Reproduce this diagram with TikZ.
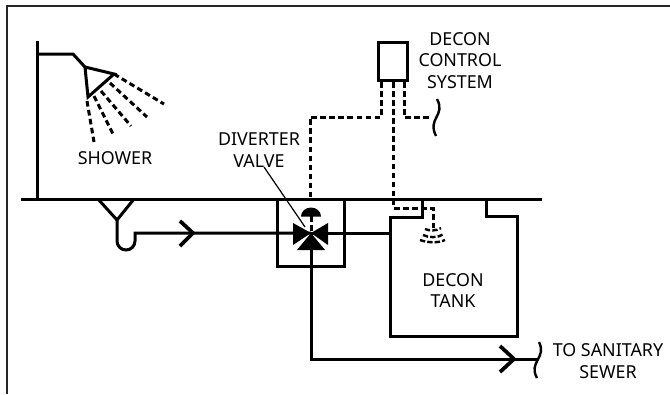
\documentclass[tikz,border=0pt]{standalone}
\usepackage{fontspec}
\setmainfont{Noto Sans}
\tikzset{
    pipe/.style={line width=2.25pt},
    signal/.style={line width=2.25pt, dash pattern=on 4.2pt off 2.6pt},
    sensor/.style={line width=1.8pt, dash pattern=on 4pt off 1.6pt},
    label/.style={align=center, font=\fontsize{13.4}{16}\selectfont, inner sep=0pt},
    thin line/.style={line width=0.9pt},
    frame/.style={line width=1.3pt, draw=black!85}
}
\begin{document}
\begin{tikzpicture}[x=0.75pt, y=-0.75pt]
        \useasboundingbox (0,0) rectangle (670,394);
        % frame
        \coordinate (frameA) at (7,394);
        \coordinate (frameB) at (7,6);
        \coordinate (frameC) at (670,6);
        \draw[frame] (frameA) -- (frameB) -- (frameC);

        % floor and shower
        \coordinate (floorL) at (21,199);
        \coordinate (floorR) at (542,199);
        \draw[pipe] (floorL) -- (floorR);
        \coordinate (riserB) at (37,199);
        \coordinate (riserT) at (37,41);
        \draw[pipe] (riserB) -- (riserT);
        \coordinate (armA) at (37,54);
        \coordinate (armB) at (73,54);
        \coordinate (headA) at (85,67);
        \coordinate (headB) at (114,74);
        \coordinate (headC) at (88,97);
        \draw[pipe] (armA) -- (armB) -- (headA);
        \draw[pipe, line join=miter] (headA) -- (headB) -- (headC) -- cycle;
        \foreach \xa/\ya/\xb/\yb in {114/74/164/104, 110/83/147/117, 101/91/131/126, 94/96/113/134, 87/101/94/142}
            \draw[signal] (\xa,\ya) -- (\xb,\yb);
        \node (shower) [label] at (115,158) {SHOWER};

        % floor drain and trap
        \coordinate (drainL) at (98,199);
        \coordinate (drainM) at (117,220);
        \coordinate (drainR) at (134,199);
        \draw[pipe] (drainL) -- (drainM) -- (drainR);
        \coordinate (valve) at (311,233);
        \draw[pipe] (drainM) -- (117,241) arc[start angle=180, end angle=0, x radius=9, y radius=9] -- (135,233) -- (valve);
        \coordinate (chevA) at (180,221);
        \coordinate (chevB) at (193,233);
        \coordinate (chevC) at (180,246);
        \draw[line width=2.8pt] (chevA) -- (chevB) -- (chevC);

        % valve box
        \node (valvebox) [draw, pipe, minimum width=50.25pt, minimum height=50.25pt, inner sep=0pt] at (310.5,232.5) {};
        \fill (valve) -- (293,223) -- (293,245) -- cycle;
        \fill (valve) -- (328,223) -- (328,245) -- cycle;
        \fill (valve) -- (297,250) -- (325,250) -- cycle;
        \fill (301,216.5) arc[start angle=180, end angle=0, x radius=10, y radius=-9] -- cycle;
        \draw[signal] (311,216) -- (valve);
        \node (diverter) [label] at (259,150) {DIVERTER\\VALVE};
        \draw[thin line] (264,167) -- (305,227);

        % control system
        \node (control) [draw, pipe, minimum width=22pt, minimum height=29pt, inner sep=0pt] at (393,61.5) {};
        \node (controllabel) [label] at (460,60.5) {DECON\\CONTROL\\SYSTEM};
        \draw[signal] (381.5,82) -- (381.5,117) -- (310,117) -- (310,199);
        \draw[signal] (404,82) -- (404,117) -- (432,117);
        \coordinate (breakT) at (437,99);
        \coordinate (breakB) at (436,136);
        \draw[line width=1.8pt] (breakT) .. controls (446,116) and (427,118) .. (breakB);
        \draw[signal] (393,82) -- (393,208) -- (433,208) -- (433,228);
        \draw[sensor] (425,229) .. controls (429,231) and (437,231) .. (441,228);
        \draw[sensor] (423,235) .. controls (429,238) and (438,238) .. (444,234);
        \draw[sensor] (420,240) .. controls (428,243) and (439,243) .. (445,240);

        % tank
        \coordinate (tankA) at (422,199);
        \coordinate (tankB) at (422,217);
        \coordinate (tankC) at (390,217);
        \coordinate (tankD) at (390,336);
        \coordinate (tankE) at (517,336);
        \coordinate (tankF) at (517,216);
        \coordinate (tankG) at (486,216);
        \coordinate (tankH) at (486,199);
        \draw[pipe] (tankA) -- (tankB) -- (tankC) -- (tankD) -- (tankE) -- (tankF) -- (tankG) -- (tankH);
        \node (tank) [label] at (453,290.5) {DECON\\TANK};
        \draw[pipe] (valve) -- (tankC |- valve);

        % to sewer
        \coordinate (sewerBreak) at (537,359);
        \draw[pipe] (valve) -- (311,359) -- (sewerBreak);
        \coordinate (chevD) at (500,346);
        \coordinate (chevE) at (514,359);
        \coordinate (chevF) at (500,372);
        \draw[line width=2.8pt] (chevD) -- (chevE) -- (chevF);
        \draw[line width=1.8pt] (539,342) .. controls (547,358) and (528,362) .. (537,378);
        \node (sewer) [label] at (608,361) {TO SANITARY\\SEWER};
    \end{tikzpicture}
\end{document}
